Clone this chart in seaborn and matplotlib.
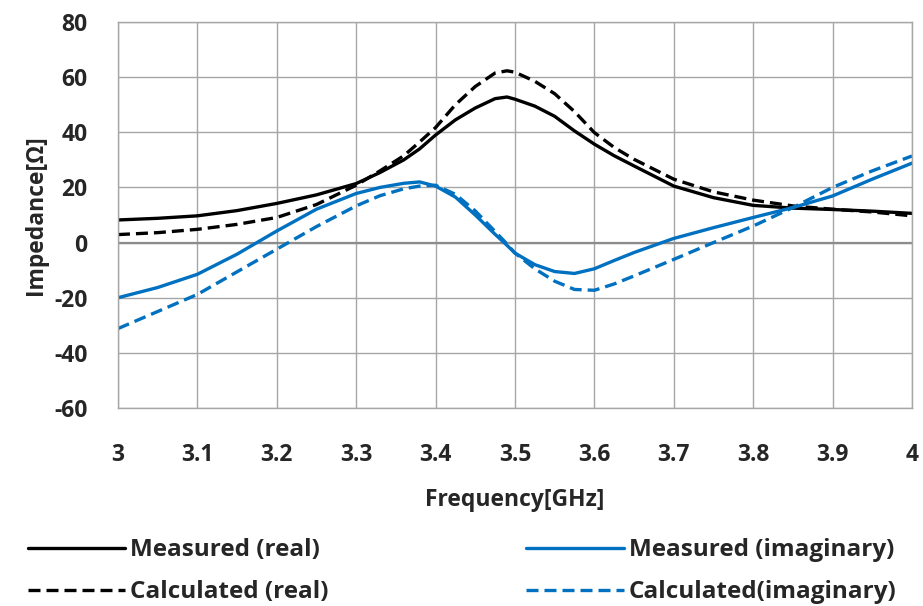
import numpy as np
import pandas as pd
import matplotlib
matplotlib.use("Agg")
import matplotlib.pyplot as plt
import seaborn as sns

# ---- data ----
freq = [3.00, 3.05, 3.10, 3.15, 3.20, 3.25, 3.30, 3.33, 3.36, 3.38, 3.40, 3.425,
        3.45, 3.475, 3.49, 3.50, 3.525, 3.55, 3.575, 3.60, 3.625, 3.65, 3.70,
        3.75, 3.80, 3.85, 3.90, 3.95, 4.00]
meas_real = [8.2, 8.8, 9.7, 11.6, 14.2, 17.3, 21.4, 25.4, 30.0, 34.0, 39.0, 44.5,
             48.8, 52.2, 52.8, 52.0, 49.5, 45.8, 40.5, 35.7, 31.5, 27.8, 20.5,
             16.3, 13.5, 12.5, 12.0, 11.4, 10.6]
calc_real = [2.9, 3.6, 4.8, 6.6, 9.1, 13.8, 20.8, 26.0, 31.5, 36.5, 41.7, 50.0,
             56.6, 61.5, 62.3, 61.8, 58.5, 54.0, 47.5, 39.9, 34.5, 30.2, 23.0,
             18.4, 15.4, 13.3, 12.1, 11.1, 9.7]
meas_imag = [-20.0, -16.3, -11.5, -4.2, 4.2, 12.1, 17.8, 20.0, 21.5, 22.0, 20.5, 16.5,
             10.0, 3.0, -1.0, -3.8, -8.0, -10.5, -11.2, -9.5, -6.5, -3.6, 1.5,
             5.4, 9.1, 12.7, 16.9, 23.0, 28.8]
calc_imag = [-31.2, -25.0, -18.8, -10.6, -2.4, 5.8, 13.3, 17.0, 19.5, 20.5, 20.8, 17.5,
             11.5, 4.0, -0.5, -3.8, -9.5, -14.0, -17.0, -17.3, -15.0, -12.1, -6.1,
             0.0, 6.0, 12.7, 20.0, 26.0, 31.4]
series_names = ["Measured (real)", "Calculated (real)",
                "Measured (imaginary)", "Calculated(imaginary)"]
x_ticks = [3, 3.1, 3.2, 3.3, 3.4, 3.5, 3.6, 3.7, 3.8, 3.9, 4]
x_tick_labels = ["3", "3.1", "3.2", "3.3", "3.4", "3.5", "3.6", "3.7", "3.8", "3.9", "4"]
y_ticks = [-60, -40, -20, 0, 20, 40, 60, 80]
y_tick_labels = ["-60", "-40", "-20", "0", "20", "40", "60", "80"]

sns.set_style("white")
plt.rcParams['font.family'] = ['Open Sans', 'DejaVu Sans']
plt.rcParams['axes.unicode_minus'] = False

fig = plt.figure(figsize=(9.23, 6.06), dpi=100)
ax = fig.add_axes([0.1278, 0.3267, 0.8602, 0.637])

blue = "#0070C0"
dash = (0, (3.6, 1.8))
styles = [("black", "-"), ("black", dash), (blue, "-"), (blue, dash)]
data = [meas_real, calc_real, meas_imag, calc_imag]
for name, vals, (c, ls) in zip(series_names, data, styles):
    df = pd.DataFrame({"f": freq, "z": vals})
    sns.lineplot(data=df, x="f", y="z", ax=ax, color=c, linewidth=2.4,
                 linestyle=ls, label=name, legend=False)

ax.set_xlim(3, 4)
ax.set_ylim(-60, 80)
ax.set_xticks(x_ticks)
ax.set_xticklabels(x_tick_labels)
ax.set_yticks(y_ticks)
ax.set_yticklabels(y_tick_labels)
ax.grid(True, color="#a6a6a6", linewidth=1.0)
ax.axhline(0, color="#8c8c8c", linewidth=1.6, zorder=1)
for s in ax.spines.values():
    s.set_color("#a6a6a6")
    s.set_linewidth(1.0)
ax.tick_params(axis="both", length=0, labelsize=16.5)
ax.tick_params(axis="x", pad=25)
ax.tick_params(axis="y", pad=22)
for lab in ax.get_xticklabels() + ax.get_yticklabels():
    lab.set_fontweight("bold")
ax.set_xlabel("Frequency[GHz]", fontsize=16.5, fontweight="bold", labelpad=15)
ax.set_ylabel("Impedance[Ω]", fontsize=16.5, fontweight="bold", labelpad=4)

handles, labels = ax.get_legend_handles_labels()
leg = fig.legend(handles, labels, ncol=2, loc="upper left",
                 bbox_to_anchor=(0.0196, 0.128), bbox_transform=fig.transFigure,
                 frameon=False, handlelength=4.0, handletextpad=0.2,
                 columnspacing=8.15, labelspacing=0.75, borderaxespad=0.0,
                 prop={"size": 17.5, "weight": "bold"})
for t in leg.get_texts():
    t.set_fontweight("bold")

fig.savefig("out.png", dpi=100)
